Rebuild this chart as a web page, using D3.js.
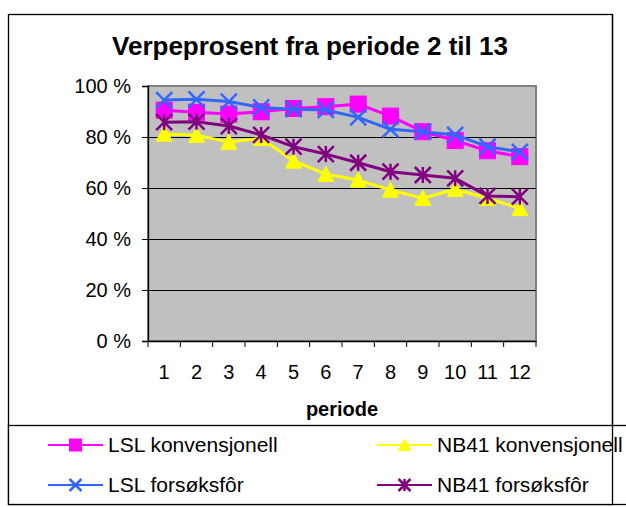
<!DOCTYPE html>
<html>
<head>
<meta charset="utf-8">
<script src="https://cdn.jsdelivr.net/npm/d3@7"></script>
<style>
  html, body { margin: 0; padding: 0; background: #fff; }
  svg { display: block; }
  text { font-family: "Liberation Sans", Arial, sans-serif; fill: #000; }
</style>
</head>
<body>
<svg id="chart" width="626" height="507"></svg>
<script>
// ---------- data ----------
const title = "Verpeprosent fra periode 2 til 13";
const xTitle = "periode";
const categories = ["1","2","3","4","5","6","7","8","9","10","11","12"];
const yTicks = [0, 0.2, 0.4, 0.6, 0.8, 1.0];
const seriesNames = ["LSL konvensjonell", "NB41 konvensjonell", "LSL forsøksfôr", "NB41 forsøksfôr"];
const lslKonv  = [0.905, 0.897, 0.890, 0.899, 0.912, 0.919, 0.929, 0.882, 0.821, 0.786, 0.746, 0.723];
const nb41Konv = [0.812, 0.807, 0.780, 0.795, 0.706, 0.654, 0.631, 0.592, 0.560, 0.595, 0.560, 0.520];
const lslFors  = [0.945, 0.948, 0.939, 0.916, 0.909, 0.906, 0.877, 0.830, 0.821, 0.808, 0.762, 0.742];
const nb41Fors = [0.858, 0.860, 0.843, 0.808, 0.762, 0.733, 0.699, 0.664, 0.651, 0.638, 0.569, 0.566];
const seriesValues = [lslKonv, nb41Konv, lslFors, nb41Fors];
const seriesColors = ["#FF00FF", "#FFFF00", "#3366FF", "#800080"];
const seriesMarkers = ["square", "triangle", "x", "star"];

// ---------- layout ----------
const svg = d3.select("#chart");
const plot = {left: 148, right: 536, top: 86, bottom: 341};

const x = d3.scaleBand().domain(categories).range([plot.left, plot.right]).padding(0);
const y = d3.scaleLinear().domain([0, 1]).range([plot.bottom, plot.top]);
const cx = d => x(d) + x.bandwidth() / 2;

// chart area border
svg.append("rect").attr("x", 8.5).attr("y", 14.5).attr("width", 604).attr("height", 490)
  .attr("fill", "#fff").attr("stroke", "#000").attr("stroke-width", 1.3);

// title
svg.append("text").attr("x", 310).attr("y", 55).attr("text-anchor", "middle")
  .style("font-size", "26px").style("font-weight", "bold").text(title);

// plot area
svg.append("rect").attr("x", plot.left).attr("y", plot.top)
  .attr("width", plot.right - plot.left).attr("height", plot.bottom - plot.top)
  .attr("fill", "#C0C0C0").attr("stroke", "#808080").attr("stroke-width", 2);

// gridlines
svg.append("g").selectAll("line").data(yTicks.filter(t => t > 0 && t < 1)).join("line")
  .attr("x1", plot.left).attr("x2", plot.right)
  .attr("y1", d => Math.round(y(d)) + 0.5).attr("y2", d => Math.round(y(d)) + 0.5)
  .attr("stroke", "#000").attr("stroke-width", 1);

// y axis
const yAxis = svg.append("g").attr("transform", `translate(${plot.left},0)`)
  .call(d3.axisLeft(y).tickValues(yTicks).tickSize(6).tickPadding(11)
    .tickFormat(d => Math.round(d * 100) + " %"));
yAxis.select(".domain").attr("stroke", "#000").attr("stroke-width", 1.3);
yAxis.selectAll(".tick line").attr("stroke", "#000");
yAxis.selectAll("text").style("font-size", "20px").attr("fill", "#000");

// x axis
const xAxis = svg.append("g").attr("transform", `translate(0,${plot.bottom})`)
  .call(d3.axisBottom(x).tickSize(0).tickPadding(24));
xAxis.select(".domain").attr("stroke", "#000").attr("stroke-width", 1.3);
xAxis.selectAll("text").style("font-size", "20px").attr("fill", "#000");
const bounds = categories.map(c => x(c)).concat([x(categories[categories.length - 1]) + x.bandwidth()]);
xAxis.selectAll("line.bt").data(bounds).join("line").attr("class", "bt")
  .attr("x1", d => d).attr("x2", d => d).attr("y1", 0).attr("y2", 6)
  .attr("stroke", "#000").attr("stroke-width", 1);

// x title
svg.append("text").attr("x", (plot.left + plot.right) / 2).attr("y", 416)
  .attr("text-anchor", "middle").style("font-size", "20px").style("font-weight", "bold").text(xTitle);

// marker drawing
function drawMarker(g, type, color, s) {
  const h = s / 2;
  if (type === "square") {
    g.append("rect").attr("x", -h).attr("y", -h).attr("width", s).attr("height", s)
      .attr("fill", color).attr("stroke", color).attr("stroke-width", 1);
  } else if (type === "triangle") {
    g.append("path").attr("d", `M0,${-h * 1.0}L${h},${h * 0.9}L${-h},${h * 0.9}Z`)
      .attr("fill", color).attr("stroke", color).attr("stroke-width", 1);
  } else if (type === "x") {
    g.append("path").attr("d", `M${-h},${-h}L${h},${h}M${-h},${h}L${h},${-h}`)
      .attr("stroke", color).attr("stroke-width", 2.5).attr("fill", "none");
  } else if (type === "star") {
    g.append("path").attr("d", `M${-h},${-h}L${h},${h}M${-h},${h}L${h},${-h}M0,${-h}L0,${h}`)
      .attr("stroke", color).attr("stroke-width", 2.5).attr("fill", "none");
  }
}

// series
const line = d3.line().x((d, i) => cx(categories[i])).y(d => y(d));
seriesValues.forEach((vals, si) => {
  const g = svg.append("g");
  g.append("path").datum(vals).attr("d", line)
    .attr("fill", "none").attr("stroke", seriesColors[si]).attr("stroke-width", 3)
    .attr("stroke-linejoin", "round");
  vals.forEach((v, i) => {
    const mg = g.append("g").attr("transform", `translate(${cx(categories[i])},${y(v)})`);
    drawMarker(mg, seriesMarkers[si], seriesColors[si], 16);
  });
});

// legend
svg.append("rect").attr("x", 8.5).attr("y", 425.5).attr("width", 640).attr("height", 79)
  .attr("fill", "#fff").attr("stroke", "#000").attr("stroke-width", 1.3);
const legendPos = [
  {lx: 48, ly: 445}, {lx: 377, ly: 445},
  {lx: 48, ly: 485}, {lx: 377, ly: 485}
];
seriesNames.forEach((name, si) => {
  const p = legendPos[si];
  const g = svg.append("g").attr("transform", `translate(${p.lx},${p.ly})`);
  g.append("line").attr("x1", 0).attr("x2", 55).attr("y1", 0).attr("y2", 0)
    .attr("stroke", seriesColors[si]).attr("stroke-width", 2);
  const mg = g.append("g").attr("transform", "translate(27.5,0)");
  drawMarker(mg, seriesMarkers[si], seriesColors[si], 12);
  g.append("text").attr("x", 60).attr("y", 0).attr("dy", "0.35em")
    .style("font-size", "21px").text(name);
});
// right chart border overlaps legend
svg.append("line").attr("x1", 612.5).attr("x2", 612.5).attr("y1", 14).attr("y2", 505)
  .attr("stroke", "#000").attr("stroke-width", 1.3);
</script>
</body>
</html>
